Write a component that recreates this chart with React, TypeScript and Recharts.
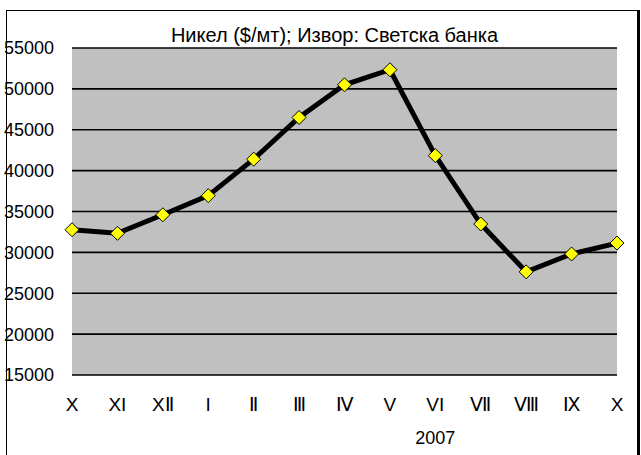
import { LineChart, Line, XAxis, YAxis, CartesianGrid } from 'recharts'

const months = ['X', 'XI', 'XⅡ', 'I', 'Ⅱ', 'Ⅲ', 'Ⅳ', 'V', 'VI', 'Ⅶ', 'Ⅷ', 'Ⅸ', 'X']
const years = ['', '', '', '', '', '', '', '', '2007', '', '', '', '']
const nickel = [32770, 32330, 34600, 36940, 41400, 46500, 50500, 52340, 41840, 33470, 27620, 29800, 31140]
const yTicks = [15000, 20000, 25000, 30000, 35000, 40000, 45000, 50000, 55000]

const data = months.map((m, i) => ({ m, year: years[i], v: nickel[i] }))

const FONT = '"Liberation Sans", Arial, sans-serif'

function Diamond(props: any) {
  const { cx, cy } = props
  if (cx == null || cy == null) return null
  const r = 7
  return (
    <polygon
      points={`${cx},${cy - r} ${cx + r},${cy} ${cx},${cy + r} ${cx - r},${cy}`}
      fill="#ffff00"
      stroke="#000"
      strokeWidth={1}
    />
  )
}

function MonthTick(props: any) {
  const { x, y, payload, index } = props
  const yr = years[index]
  return (
    <g>
      <text x={x} y={y} dy={18} textAnchor="middle" fontSize={19} fontFamily={FONT} fill="#000">
        {payload.value}
      </text>
      {yr ? (
        <text x={x} y={y} dy={51} textAnchor="middle" fontSize={18} fontFamily={FONT} fill="#000">
          {yr}
        </text>
      ) : null}
    </g>
  )
}

export default function App() {
  return (
    <div style={{ position: 'absolute', left: 0, top: 0, width: 641, height: 455, background: '#fff', overflow: 'hidden', fontFamily: FONT }}>
      <div style={{ position: 'absolute', left: 6, top: 10, width: 630, height: 460, borderLeft: '1px solid #000', borderTop: '1px solid #000', borderRight: '3px solid #000' }} />
      <div style={{ position: 'absolute', left: 0, top: 23, width: 669, textAlign: 'center', fontSize: 20, lineHeight: '24px', color: '#000', whiteSpace: 'nowrap' }}>
        Никел ($/мт); Извор: Светска банка
      </div>
      <div style={{ position: 'absolute', left: 0, top: 0 }}>
        <LineChart width={641} height={455} data={data} margin={{ top: 48, right: 24, bottom: 50, left: 0 }}>
          <CartesianGrid vertical={false} stroke="#000" strokeWidth={1.6} fill="#c0c0c0" fillOpacity={1} />
          <XAxis
            dataKey="m"
            height={30}
            axisLine={false}
            tickLine={false}
            interval={0}
            tick={<MonthTick />}
            tickMargin={12}
          />
          <YAxis
            domain={[15000, 55000]}
            ticks={yTicks}
            width={72}
            axisLine={false}
            tickLine={false}
            tickMargin={12}
            tick={{ fontSize: 18, fill: '#000', fontFamily: FONT }}
          />
          <Line
            type="linear"
            dataKey="v"
            stroke="#000"
            strokeWidth={5}
            dot={<Diamond />}
            activeDot={false}
            isAnimationActive={false}
          />
        </LineChart>
      </div>
    </div>
  )
}
